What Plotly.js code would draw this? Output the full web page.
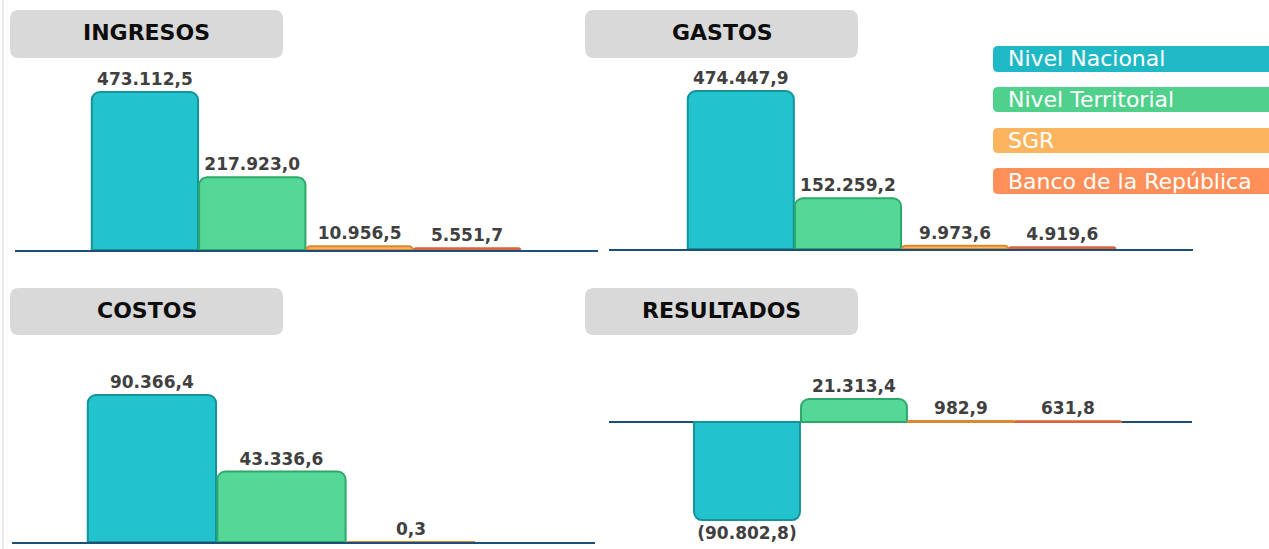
<!DOCTYPE html>
<html>
<head>
<meta charset="utf-8">
<script src="https://cdn.plot.ly/plotly-3.0.1.min.js"></script>
<style>
  html, body { margin: 0; padding: 0; background: #ffffff; }
  #chart { width: 1269px; height: 549px; }
</style>
</head>
<body>
<div id="chart"></div>
<script>
const W = 1269, H = 549;

// datos (miles de millones)
const categorias = ['Nivel Nacional', 'Nivel Territorial', 'SGR', 'Banco de la República'];
const ingresos = [473112.5, 217923.0, 10956.5, 5551.7];
const gastos = [474447.9, 152259.2, 9973.6, 4919.6];
const costos = [90366.4, 43336.6, 0.3, null];
const resultados = [-90802.8, 21313.4, 982.9, 631.8];

const relleno = ['#22C3CC', '#55D897', '#FDB35F', '#FF8C57'];
const borde = ['#14939B', '#2EA86A', '#D98A30', '#D9663A'];
const leyendaColor = ['#1FB9C5', '#4FD18C', '#FDB45F', '#FF8F58'];

function fmt(v) {
    if (v === null) return '';
    const neg = v < 0;
    const parts = Math.abs(v).toFixed(1).split('.');
    const ent = parts[0].replace(/\B(?=(\d{3})+(?!\d))/g, '.');
    const s = ent + ',' + parts[1];
    return neg ? '(' + s + ')' : s;
}

const px = p => p / W;
const py = p => 1 - p / H;

function barras(valores, n) {
    return {
        type: 'bar',
        x: categorias,
        y: valores,
        xaxis: 'x' + (n === 1 ? '' : n),
        yaxis: 'y' + (n === 1 ? '' : n),
        marker: {
            color: relleno,
            line: { color: borde, width: 2 },
            cornerradius: 8
        },
        text: valores.map(fmt),
        textposition: 'outside',
        constraintext: 'none',
        cliponaxis: false,
        textfont: { family: 'DejaVu Sans', size: 17, color: '#404040', weight: 'bold' },
        hoverinfo: 'skip',
        showlegend: false
    };
}

function ejeX(x0, x1, rango, linea, yname) {
    return {
        domain: [px(x0), px(x1)],
        range: rango,
        type: 'category',
        anchor: yname,
        showline: linea,
        linecolor: '#1F4E79',
        linewidth: 2,
        showticklabels: false,
        ticks: '',
        showgrid: false,
        zeroline: false,
        fixedrange: true
    };
}

function ejeY(top, bottom, rango, cero, xname) {
    return {
        domain: [py(bottom), py(top)],
        range: rango,
        anchor: xname,
        showticklabels: false,
        ticks: '',
        showgrid: false,
        zeroline: cero,
        zerolinecolor: '#1F4E79',
        zerolinewidth: 2,
        fixedrange: true
    };
}

function caja(x0, y0, x1, y1, r, color) {
    const a = px(x0), b = px(x1), c = py(y0), d = py(y1);
    const rx = r / W, ry = r / H;
    return {
        type: 'path', xref: 'paper', yref: 'paper', layer: 'below',
        fillcolor: color, line: { width: 0 },
        path: `M ${a + rx} ${c} L ${b - rx} ${c} Q ${b} ${c} ${b} ${c - ry} L ${b} ${d + ry} Q ${b} ${d} ${b - rx} ${d} ` +
              `L ${a + rx} ${d} Q ${a} ${d} ${a} ${d + ry} L ${a} ${c - ry} Q ${a} ${c} ${a + rx} ${c} Z`
    };
}

const titulos = [
    { text: 'INGRESOS', x0: 10, y0: 10, x1: 283, y1: 58 },
    { text: 'GASTOS', x0: 585, y0: 10, x1: 858, y1: 58 },
    { text: 'COSTOS', x0: 10, y0: 288, x1: 283, y1: 335 },
    { text: 'RESULTADOS', x0: 585, y0: 288, x1: 858, y1: 335 }
];
const leyendaY = [[46, 72], [87, 112], [128, 153], [168, 194]];

const shapes = [
    { type: 'line', xref: 'paper', yref: 'paper', x0: px(3), x1: px(3), y0: 0, y1: 1,
      line: { color: '#E3E3E3', width: 1.5 }, layer: 'below' }
];
const annotations = [];

titulos.forEach(t => {
    shapes.push(caja(t.x0, t.y0, t.x1, t.y1, 9, '#D9D9D9'));
    annotations.push({
        xref: 'paper', yref: 'paper', x: px((t.x0 + t.x1) / 2), y: py((t.y0 + t.y1) / 2 - 1),
        text: t.text, showarrow: false, xanchor: 'center', yanchor: 'middle',
        font: { family: 'DejaVu Sans', size: 22, color: '#0D0D0D', weight: 'bold' }
    });
});

categorias.forEach((c, i) => {
    const [y0, y1] = leyendaY[i];
    shapes.push(caja(993, y0, 1290, y1, 5, leyendaColor[i]));
    annotations.push({
        xref: 'paper', yref: 'paper', x: px(1006), y: py((y0 + y1) / 2),
        text: c, showarrow: false, xanchor: 'left', yanchor: 'middle',
        font: { family: 'DejaVu Sans', size: 22, color: '#FFFFFF' }
    });
});

const data = [
    barras(ingresos, 1),
    barras(gastos, 2),
    barras(costos, 3),
    barras(resultados, 4)
];

const layout = {
    width: W,
    height: H,
    margin: { l: 0, r: 0, t: 0, b: 0 },
    paper_bgcolor: '#FFFFFF',
    plot_bgcolor: 'rgba(0,0,0,0)',
    bargap: 0.01,
    showlegend: false,
    xaxis: ejeX(15, 598, [-1.21, 4.22], true, 'y'),
    yaxis: ejeY(62, 250, [0, 563000], false, 'x'),
    xaxis2: ejeX(609, 1193, [-1.23, 4.22], true, 'y2'),
    yaxis2: ejeY(62, 249, [0, 561500], false, 'x2'),
    xaxis3: ejeX(12, 595, [-1.08, 3.42], true, 'y3'),
    yaxis3: ejeY(345, 542, [0, 121100], false, 'x3'),
    xaxis4: ejeX(609, 1192, [-1.29, 4.16], false, 'y4'),
    yaxis4: ejeY(345, 547, [-115800, 71350], true, 'x4'),
    shapes: shapes,
    annotations: annotations
};

Plotly.newPlot('chart', data, layout, { staticPlot: true, displayModeBar: false });
</script>
</body>
</html>
